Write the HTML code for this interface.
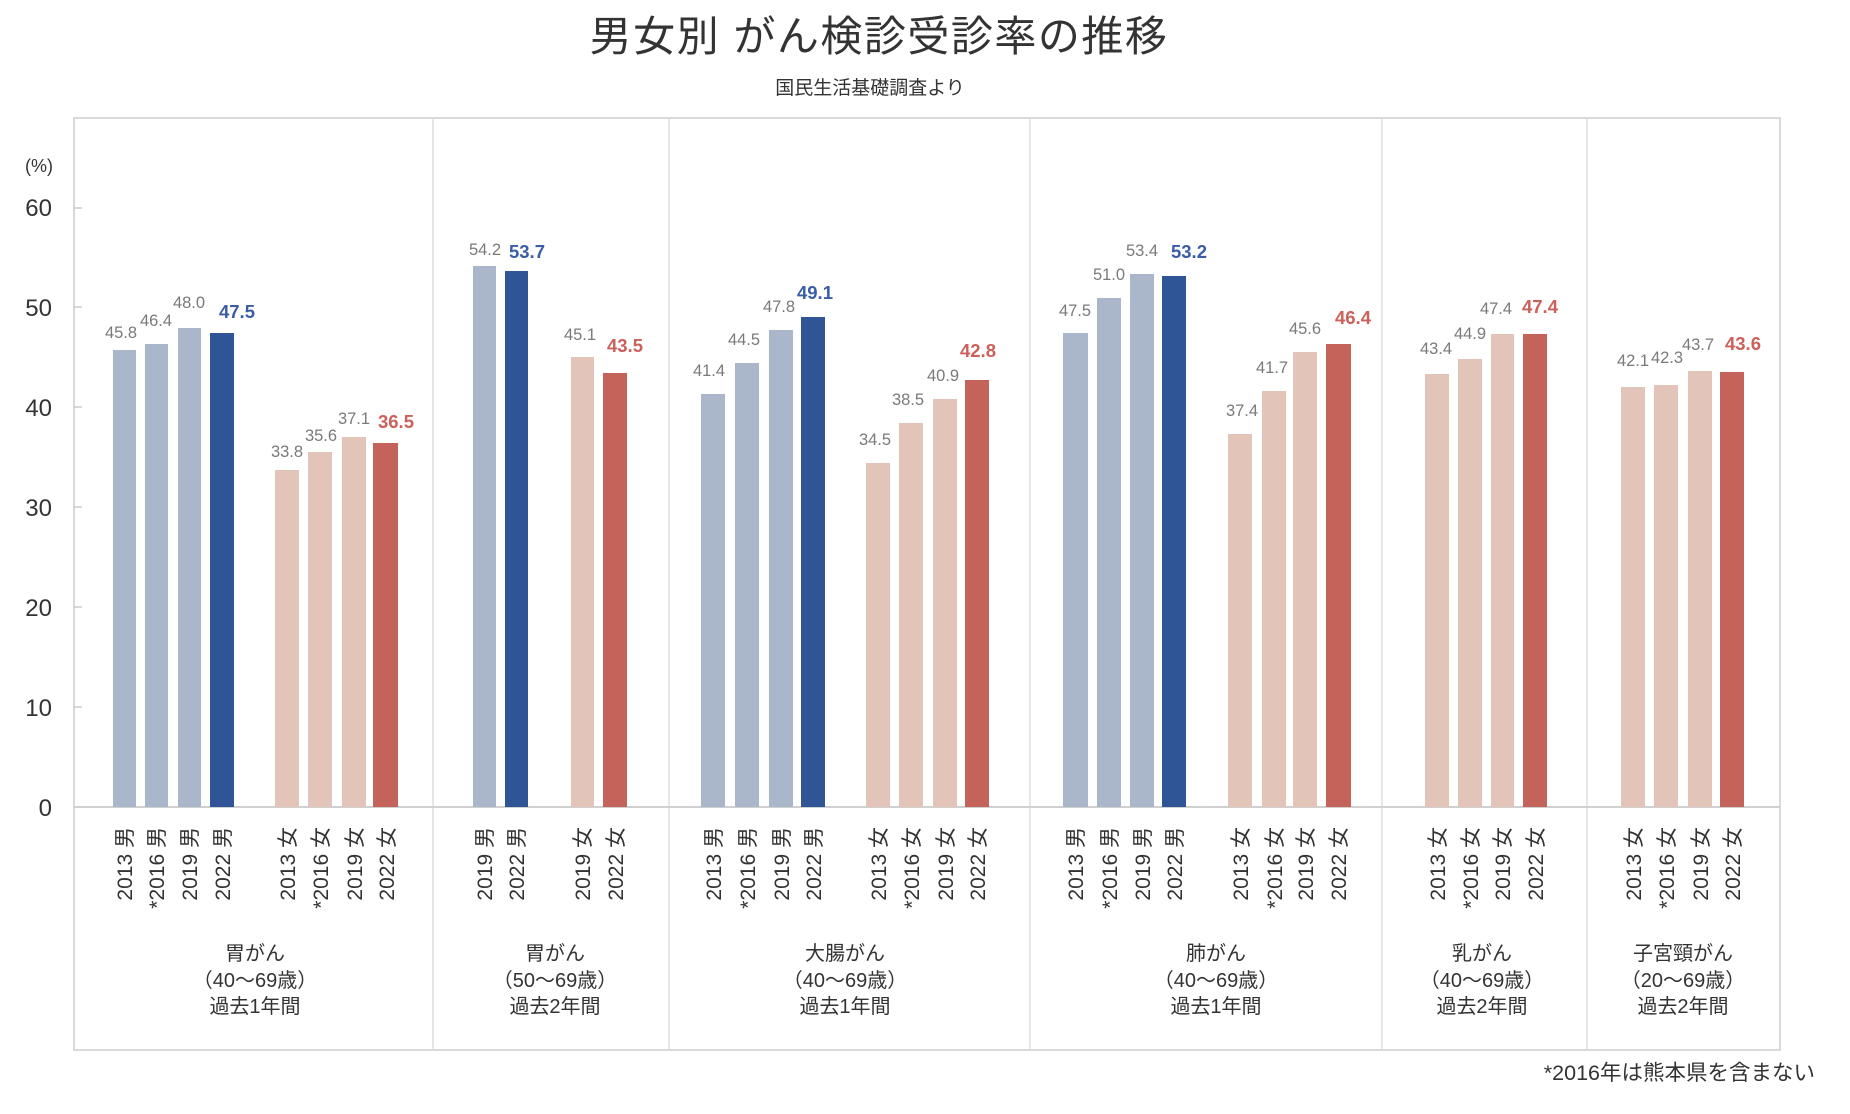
<!DOCTYPE html>
<html><head><meta charset="utf-8"><style>
html,body{margin:0;padding:0;background:#fff;}
svg{display:block;font-family:"Liberation Sans","Noto Sans CJK JP",sans-serif;}
.g{fill:#7a7a7a;font-size:16.5px;text-anchor:middle;}
.bb{fill:#3a5ea5;font-size:18.5px;font-weight:bold;text-anchor:middle;}
.br{fill:#cc605a;font-size:18.5px;font-weight:bold;text-anchor:middle;}
.c{fill:#333;font-size:21px;text-anchor:end;}
.gl{fill:#333;font-size:20px;text-anchor:middle;}
.y{fill:#333;font-size:24px;text-anchor:end;}
.lb{fill:#aab6ca}.db{fill:#2f5597}.lp{fill:#e3c4b9}.dr{fill:#c3635a}
</style></head><body>
<svg width="1850" height="1114" viewBox="0 0 1850 1114">
<text x="879" y="51" font-size="42" fill="#333" text-anchor="middle" letter-spacing="1.5">男女別 がん検診受診率の推移</text>
<text x="870" y="94" font-size="19" fill="#333" text-anchor="middle">国民生活基礎調査より</text>
<rect x="74" y="118" width="1706" height="932" fill="none" stroke="#d9d9d9" stroke-width="2"/>
<g stroke="#dedede" stroke-width="1.5">
<line x1="433" y1="118" x2="433" y2="1050"/><line x1="669" y1="118" x2="669" y2="1050"/>
<line x1="1030" y1="118" x2="1030" y2="1050"/><line x1="1382" y1="118" x2="1382" y2="1050"/>
<line x1="1587" y1="118" x2="1587" y2="1050"/>
</g>
<line x1="74" y1="807" x2="1780" y2="807" stroke="#d0d0d0" stroke-width="2"/>
<g stroke="#ccc" stroke-width="1.5">
<line x1="74" y1="208" x2="82" y2="208"/><line x1="74" y1="307" x2="82" y2="307"/><line x1="74" y1="407" x2="82" y2="407"/>
<line x1="74" y1="507" x2="82" y2="507"/><line x1="74" y1="607" x2="82" y2="607"/><line x1="74" y1="707" x2="82" y2="707"/>
</g>
<text x="53" y="172" font-size="18" fill="#333" text-anchor="end">(%)</text>
<text class="y" x="52" y="216">60</text><text class="y" x="52" y="316">50</text><text class="y" x="52" y="416">40</text>
<text class="y" x="52" y="516">30</text><text class="y" x="52" y="616">20</text><text class="y" x="52" y="716">10</text>
<text class="y" x="52" y="816">0</text>

<!-- G1 -->
<rect class="lb" x="113" y="350" width="23" height="457"/><rect class="lb" x="145" y="344" width="23" height="463"/>
<rect class="lb" x="178" y="328" width="23" height="479"/><rect class="db" x="210" y="333" width="24" height="474"/>
<rect class="lp" x="275" y="470" width="24" height="337"/><rect class="lp" x="308" y="452" width="24" height="355"/>
<rect class="lp" x="342" y="437" width="24" height="370"/><rect class="dr" x="373" y="443" width="25" height="364"/>
<text class="g" x="121" y="338">45.8</text><text class="g" x="156" y="326">46.4</text><text class="g" x="189" y="308">48.0</text><text class="bb" x="237" y="318">47.5</text>
<text class="g" x="287" y="457">33.8</text><text class="g" x="321" y="441">35.6</text><text class="g" x="354" y="424">37.1</text><text class="br" x="396" y="428">36.5</text>
<!-- G2 -->
<rect class="lb" x="473" y="266" width="23" height="541"/><rect class="db" x="505" y="271" width="23" height="536"/>
<rect class="lp" x="571" y="357" width="23" height="450"/><rect class="dr" x="603" y="373" width="24" height="434"/>
<text class="g" x="485" y="255">54.2</text><text class="bb" x="527" y="258">53.7</text>
<text class="g" x="580" y="340">45.1</text><text class="br" x="625" y="352">43.5</text>
<!-- G3 -->
<rect class="lb" x="701" y="394" width="24" height="413"/><rect class="lb" x="735" y="363" width="24" height="444"/>
<rect class="lb" x="769" y="330" width="24" height="477"/><rect class="db" x="801" y="317" width="24" height="490"/>
<rect class="lp" x="866" y="463" width="24" height="344"/><rect class="lp" x="899" y="423" width="24" height="384"/>
<rect class="lp" x="933" y="399" width="24" height="408"/><rect class="dr" x="965" y="380" width="24" height="427"/>
<text class="g" x="709" y="376">41.4</text><text class="g" x="744" y="345">44.5</text><text class="g" x="779" y="312">47.8</text><text class="bb" x="815" y="299">49.1</text>
<text class="g" x="875" y="445">34.5</text><text class="g" x="908" y="405">38.5</text><text class="g" x="943" y="381">40.9</text><text class="br" x="978" y="357">42.8</text>
<!-- G4 -->
<rect class="lb" x="1063" y="333" width="25" height="474"/><rect class="lb" x="1097" y="298" width="24" height="509"/>
<rect class="lb" x="1130" y="274" width="24" height="533"/><rect class="db" x="1162" y="276" width="24" height="531"/>
<rect class="lp" x="1228" y="434" width="24" height="373"/><rect class="lp" x="1262" y="391" width="24" height="416"/>
<rect class="lp" x="1293" y="352" width="24" height="455"/><rect class="dr" x="1326" y="344" width="25" height="463"/>
<text class="g" x="1075" y="316">47.5</text><text class="g" x="1109" y="280">51.0</text><text class="g" x="1142" y="256">53.4</text><text class="bb" x="1189" y="258">53.2</text>
<text class="g" x="1242" y="416">37.4</text><text class="g" x="1272" y="373">41.7</text><text class="g" x="1305" y="334">45.6</text><text class="br" x="1353" y="324">46.4</text>
<!-- Breast -->
<rect class="lp" x="1425" y="374" width="24" height="433"/><rect class="lp" x="1458" y="359" width="24" height="448"/>
<rect class="lp" x="1491" y="334" width="23" height="473"/><rect class="dr" x="1523" y="334" width="24" height="473"/>
<text class="g" x="1436" y="354">43.4</text><text class="g" x="1470" y="339">44.9</text><text class="g" x="1496" y="314">47.4</text><text class="br" x="1540" y="313">47.4</text>
<!-- Cervical -->
<rect class="lp" x="1621" y="387" width="24" height="420"/><rect class="lp" x="1654" y="385" width="24" height="422"/>
<rect class="lp" x="1688" y="371" width="24" height="436"/><rect class="dr" x="1720" y="372" width="24" height="435"/>
<text class="g" x="1633" y="366">42.1</text><text class="g" x="1667" y="363">42.3</text><text class="g" x="1698" y="350">43.7</text><text class="br" x="1743" y="350">43.6</text>

<!-- category labels -->
<g class="c">
<text transform="translate(132,827) rotate(-90)">2013 男</text><text transform="translate(164,827) rotate(-90)">*2016 男</text>
<text transform="translate(197,827) rotate(-90)">2019 男</text><text transform="translate(230,827) rotate(-90)">2022 男</text>
<text transform="translate(295,827) rotate(-90)">2013 女</text><text transform="translate(328,827) rotate(-90)">*2016 女</text>
<text transform="translate(362,827) rotate(-90)">2019 女</text><text transform="translate(394,827) rotate(-90)">2022 女</text>
<text transform="translate(492,827) rotate(-90)">2019 男</text><text transform="translate(524,827) rotate(-90)">2022 男</text>
<text transform="translate(590,827) rotate(-90)">2019 女</text><text transform="translate(623,827) rotate(-90)">2022 女</text>
<text transform="translate(721,827) rotate(-90)">2013 男</text><text transform="translate(755,827) rotate(-90)">*2016 男</text>
<text transform="translate(789,827) rotate(-90)">2019 男</text><text transform="translate(821,827) rotate(-90)">2022 男</text>
<text transform="translate(886,827) rotate(-90)">2013 女</text><text transform="translate(919,827) rotate(-90)">*2016 女</text>
<text transform="translate(953,827) rotate(-90)">2019 女</text><text transform="translate(985,827) rotate(-90)">2022 女</text>
<text transform="translate(1083,827) rotate(-90)">2013 男</text><text transform="translate(1117,827) rotate(-90)">*2016 男</text>
<text transform="translate(1150,827) rotate(-90)">2019 男</text><text transform="translate(1182,827) rotate(-90)">2022 男</text>
<text transform="translate(1248,827) rotate(-90)">2013 女</text><text transform="translate(1282,827) rotate(-90)">*2016 女</text>
<text transform="translate(1313,827) rotate(-90)">2019 女</text><text transform="translate(1346,827) rotate(-90)">2022 女</text>
<text transform="translate(1445,827) rotate(-90)">2013 女</text><text transform="translate(1478,827) rotate(-90)">*2016 女</text>
<text transform="translate(1510,827) rotate(-90)">2019 女</text><text transform="translate(1543,827) rotate(-90)">2022 女</text>
<text transform="translate(1641,827) rotate(-90)">2013 女</text><text transform="translate(1674,827) rotate(-90)">*2016 女</text>
<text transform="translate(1708,827) rotate(-90)">2019 女</text><text transform="translate(1740,827) rotate(-90)">2022 女</text>
</g>
<g class="gl">
<text x="255" y="960">胃がん</text><text x="255" y="987">（40～69歳）</text><text x="255" y="1013">過去1年間</text>
<text x="555" y="960">胃がん</text><text x="555" y="987">（50～69歳）</text><text x="555" y="1013">過去2年間</text>
<text x="845" y="960">大腸がん</text><text x="845" y="987">（40～69歳）</text><text x="845" y="1013">過去1年間</text>
<text x="1216" y="960">肺がん</text><text x="1216" y="987">（40～69歳）</text><text x="1216" y="1013">過去1年間</text>
<text x="1482" y="960">乳がん</text><text x="1482" y="987">（40～69歳）</text><text x="1482" y="1013">過去2年間</text>
<text x="1683" y="960">子宮頸がん</text><text x="1683" y="987">（20～69歳）</text><text x="1683" y="1013">過去2年間</text>
</g>
<text x="1815" y="1080" font-size="21.5" fill="#333" text-anchor="end">*2016年は熊本県を含まない</text>
</svg>
</body></html>
